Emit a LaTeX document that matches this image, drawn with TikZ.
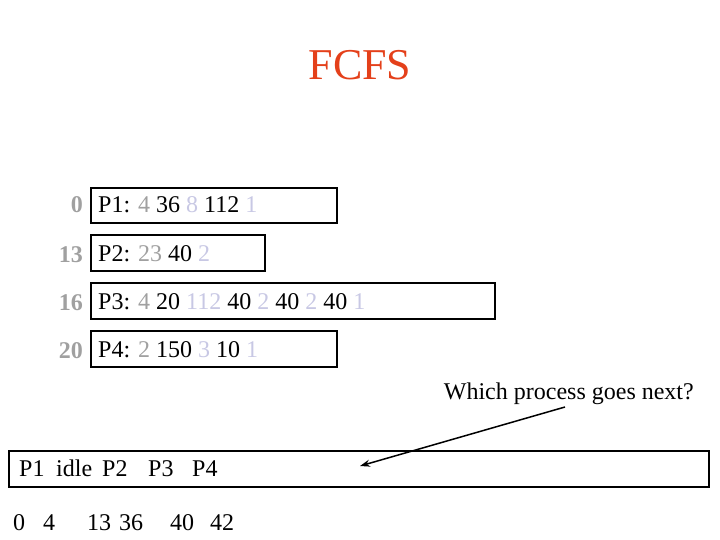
\documentclass[tikz,border=0pt]{standalone}
\usepackage{fontspec}
\setmainfont{Liberation Serif}
\usetikzlibrary{arrows.meta}
\definecolor{titlered}{RGB}{228,64,26}
\definecolor{gr}{RGB}{160,160,160}
\definecolor{lav}{RGB}{200,200,228}
\newcommand{\cgr}[1]{\textcolor{gr}{#1}}
\newcommand{\clv}[1]{\textcolor{lav}{#1}}
\begin{document}
\begin{tikzpicture}[x=1pt,y=-1pt,
  pbox/.style={draw=black,line width=2pt,anchor=north west,inner sep=0pt},
  ptext/.style={anchor=base west,inner sep=0pt,font=\fontsize{24}{28}\selectfont},
  tlabel/.style={anchor=base east,inner sep=0pt,text=gr,font=\fontsize{24}{28}\selectfont\bfseries}]
\useasboundingbox (0,0) rectangle (720,540);
\node[anchor=base,inner sep=0pt,text=titlered,font=\fontsize{44}{50}\selectfont] (title) at (360,80) {FCFS};

\node[pbox,minimum width=246pt,minimum height=35pt] (b1) at (90,187) {};
\node[pbox,minimum width=174pt,minimum height=36pt] (b2) at (90,234) {};
\node[pbox,minimum width=404pt,minimum height=36pt] (b3) at (90,282) {};
\node[pbox,minimum width=246pt,minimum height=36pt] (b4) at (90,330) {};

\node[ptext] (t1) at (98,213) {P1: \cgr{4} 36 \clv{8} 112 \clv{1}};
\node[ptext] (t2) at (98,261) {P2: \cgr{23} 40 \clv{2}};
\node[ptext] (t3) at (98,309) {P3: \cgr{4} 20 \clv{112} 40 \clv{2} 40 \clv{2} 40 \clv{1}};
\node[ptext] (t4) at (98,357) {P4: \cgr{2} 150 \clv{3} 10 \clv{1}};

\node[tlabel] (l1) at (83,213) {0};
\node[tlabel] (l2) at (83,262) {13};
\node[tlabel] (l3) at (83,310) {16};
\node[tlabel] (l4) at (83,358) {20};

\node[anchor=base east,inner sep=0pt,font=\fontsize{24}{28}\selectfont] (q) at (694,399) {Which process goes next?};

\node[pbox,minimum width=700pt,minimum height=36pt] (gantt) at (8,450) {};
\node[ptext] (g1) at (19,476) {P1};
\node[ptext] (g2) at (56,476) {idle};
\node[ptext] (g3) at (102,476) {P2};
\node[ptext] (g4) at (148,476) {P3};
\node[ptext] (g5) at (192,476) {P4};

\node[ptext] (n1) at (13,530) {0};
\node[ptext] (n2) at (43,530) {4};
\node[ptext] (n3) at (87,530) {13};
\node[ptext] (n4) at (119,530) {36};
\node[ptext] (n5) at (170,530) {40};
\node[ptext] (n6) at (210,530) {42};

\coordinate (as) at (565,407);
\coordinate (ae) at (360,466);
\draw[line width=1.5pt,-{Stealth[length=10pt,width=7pt]}] (as) -- (ae);
\end{tikzpicture}
\end{document}
